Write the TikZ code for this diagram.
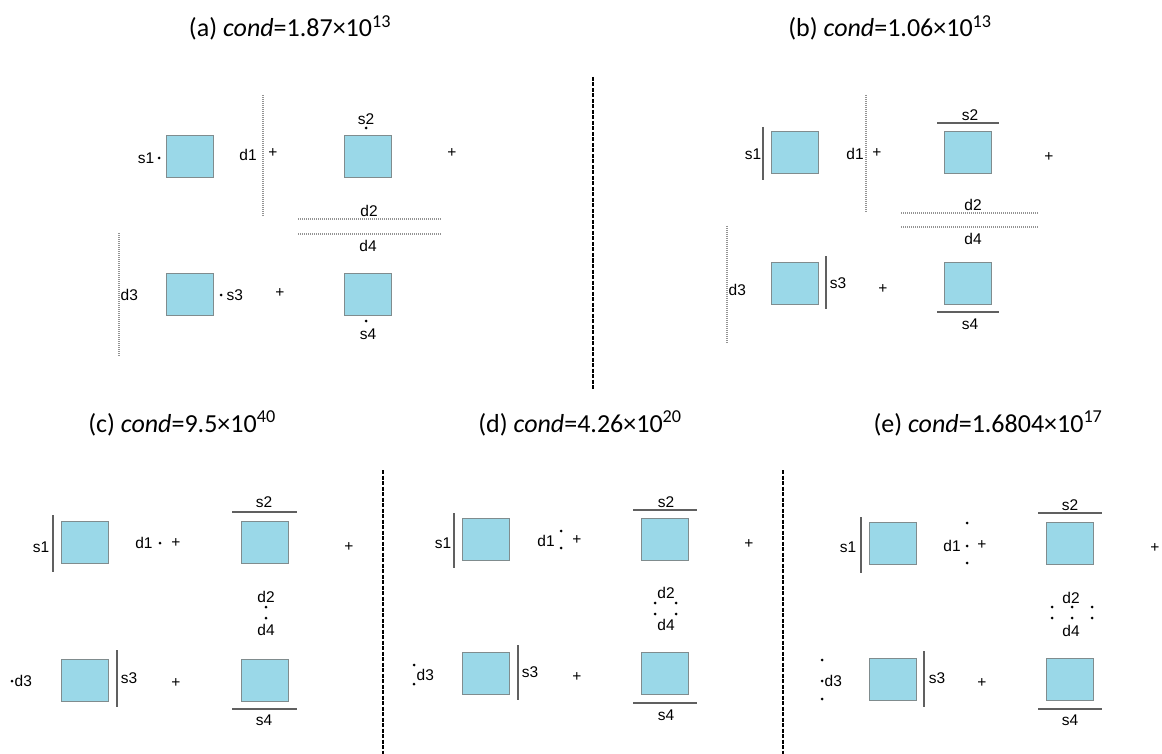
\documentclass[tikz,border=0pt]{standalone}
\usepackage{fontspec}
\setmainfont{Carlito}
\newfontfamily\lblfont{Liberation Sans}
\definecolor{boxblue}{RGB}{154,216,232}
\definecolor{boxedge}{RGB}{128,140,142}
\tikzset{
  blk/.style={draw=boxedge,fill=boxblue,line width=0.8pt,minimum width=47pt,minimum height=42pt,inner sep=0pt},
  lbl/.style={font=\lblfont\fontsize{15.5}{18}\selectfont,inner sep=0.5pt},
  ttl/.style={font=\fontsize{26}{30}\selectfont,anchor=base},
  bar/.style={draw=gray!75!black,line width=1.3pt},
  dotline/.style={draw=gray!85,line width=1.3pt,dash pattern=on 1pt off 1pt},
  sepline/.style={line width=2pt,dash pattern=on 4pt off 1.5pt},
  pt/.style={circle,fill=black,inner sep=0pt,minimum size=3pt}
}
\begin{document}
\begin{tikzpicture}[x=1pt,y=-1pt]
\useasboundingbox (0,0) rectangle (1162,754);

% titles
\node[ttl] (ta) at (290,37) {(a) \textit{cond}=1.87×10\textsuperscript{13}};
\node[ttl] (tb) at (890,37) {(b) \textit{cond}=1.06×10\textsuperscript{13}};
\node[ttl] (tc) at (182,432) {(c) \textit{cond}=9.5×10\textsuperscript{40}};
\node[ttl] (td) at (580,432) {(d) \textit{cond}=4.26×10\textsuperscript{20}};
\node[ttl] (te) at (988,432) {(e) \textit{cond}=1.6804×10\textsuperscript{17}};

% separators
\draw[sepline] (593,77) -- (593,390);
\draw[sepline] (383,470) -- (383,754);
\draw[sepline] (783,470) -- (783,754);

% (a)
\node[blk] (a1) at (189.5,156.5) {};
\node[blk] (a2) at (367.5,156.5) {};
\node[blk] (a3) at (189.5,294) {};
\node[blk] (a4) at (367.5,294) {};
\node[lbl] (a-s1) at (146,158) {s1};
\node[pt] (a-x1) at (159,158) {};
\draw[dotline] (263,95) -- (263,217);
\node[lbl] (a-d1) at (248,155) {d1};
\node[lbl] (a-p1) at (273,153) {+};
\node[lbl] (a-s2) at (366,119) {s2};
\node[pt] (a-x2) at (366,128) {};
\node[lbl] (a-p2) at (452,153) {+};
\draw[dotline] (298,219) -- (442,219);
\draw[dotline] (298,234) -- (442,234);
\node[lbl] (a-d2) at (369,211) {d2};
\node[lbl] (a-d4) at (368,246) {d4};
\draw[dotline] (119,233) -- (119,356);
\node[lbl,anchor=west] (a-d3) at (120,295) {d3};
\node[pt] (a-x3) at (221,295) {};
\node[lbl,anchor=west] (a-s3) at (226,295) {s3};
\node[lbl] (a-p3) at (280,293) {+};
\node[pt] (a-x4) at (366,321) {};
\node[lbl] (a-s4) at (368,334) {s4};

% (b)
\node[blk] (b1) at (795,152) {};
\node[blk] (b2) at (968,152) {};
\node[blk] (b3) at (795,283) {};
\node[blk] (b4) at (968,283) {};
\draw[bar] (763,127) -- (763,180);
\node[lbl] (b-s1) at (753,154) {s1};
\draw[dotline] (866,95) -- (866,212);
\node[lbl] (b-d1) at (855,154) {d1};
\node[lbl] (b-p1) at (877,153) {+};
\draw[bar] (937,123) -- (999,123);
\node[lbl] (b-s2) at (970,115) {s2};
\node[lbl] (b-p2) at (1049,157) {+};
\draw[dotline] (901,213) -- (1039,213);
\draw[dotline] (901,227) -- (1039,227);
\node[lbl] (b-d2) at (973,205) {d2};
\node[lbl] (b-d4) at (973,239) {d4};
\draw[dotline] (727,226) -- (727,343);
\node[lbl,anchor=west] (b-d3) at (728,290) {d3};
\draw[bar] (826,256) -- (826,309);
\node[lbl] (b-s3) at (838,283) {s3};
\node[lbl] (b-p3) at (883,289) {+};
\draw[bar] (937,312) -- (999,312);
\node[lbl] (b-s4) at (970,324) {s4};

% (c)
\node[blk] (c1) at (85,542) {};
\node[blk] (c2) at (264.5,542) {};
\node[blk] (c3) at (85,680) {};
\node[blk] (c4) at (264.5,680) {};
\draw[bar] (53,515) -- (53,572);
\node[lbl] (c-s1) at (41,547) {s1};
\node[lbl] (c-d1) at (144,543) {d1};
\node[pt] (c-x1) at (160,543) {};
\node[lbl] (c-p1) at (176,543) {+};
\draw[bar] (232,512) -- (297,512);
\node[lbl] (c-s2) at (264,502) {s2};
\node[lbl] (c-p2) at (349,547) {+};
\node[lbl] (c-d2) at (266,597) {d2};
\node[pt] (c-x2) at (266,607) {};
\node[pt] (c-x3) at (266,618) {};
\node[lbl] (c-d4) at (266,630) {d4};
\node[pt] (c-x4) at (12,681) {};
\node[lbl,anchor=west] (c-d3) at (14,681) {d3};
\draw[bar] (117,650) -- (117,707);
\node[lbl] (c-s3) at (129,678) {s3};
\node[lbl] (c-p3) at (176,683) {+};
\draw[bar] (232,709) -- (297,709);
\node[lbl] (c-s4) at (264,720) {s4};

% (d)
\node[blk] (d1) at (486,539.5) {};
\node[blk] (d2) at (664.5,539.5) {};
\node[blk] (d3) at (486,673.5) {};
\node[blk] (d4) at (664.5,673.5) {};
\draw[bar] (454,513) -- (454,568);
\node[lbl] (d-s1) at (443,543) {s1};
\node[lbl] (d-d1) at (546,541) {d1};
\node[pt] (d-x1) at (561,531) {};
\node[pt] (d-x2) at (561,548) {};
\node[lbl] (d-p1) at (577,540) {+};
\draw[bar] (633,510) -- (697,510);
\node[lbl] (d-s2) at (666,502) {s2};
\node[lbl] (d-p2) at (749,544) {+};
\node[lbl] (d-d2) at (666,593) {d2};
\node[pt] (d-x3) at (655,603) {};
\node[pt] (d-x4) at (676,603) {};
\node[pt] (d-x5) at (655,614) {};
\node[pt] (d-x6) at (676,614) {};
\node[lbl] (d-d4) at (666,625) {d4};
\node[pt] (d-x7) at (414,665) {};
\node[pt] (d-x8) at (414,684) {};
\node[lbl,anchor=west] (d-d3) at (416,675) {d3};
\draw[bar] (518,645) -- (518,700);
\node[lbl] (d-s3) at (530,672) {s3};
\node[lbl] (d-p3) at (577,677) {+};
\draw[bar] (633,703) -- (697,703);
\node[lbl] (d-s4) at (666,715) {s4};

% (e)
\node[blk] (e1) at (892.5,543) {};
\node[blk] (e2) at (1070,543) {};
\node[blk] (e3) at (892.5,679.5) {};
\node[blk] (e4) at (1070,679.5) {};
\draw[bar] (861,517) -- (861,573);
\node[lbl] (e-s1) at (848,547) {s1};
\node[lbl] (e-d1) at (952,546) {d1};
\node[pt] (e-x1) at (967,523) {};
\node[pt] (e-x2) at (967,546) {};
\node[pt] (e-x3) at (967,563) {};
\node[lbl] (e-p1) at (982,545) {+};
\draw[bar] (1038,513) -- (1102,513);
\node[lbl] (e-s2) at (1070,505) {s2};
\node[lbl] (e-p2) at (1155,548) {+};
\node[lbl] (e-d2) at (1071,598) {d2};
\foreach \xx in {1052,1072,1092} {
  \node[pt] at (\xx,607) {};
  \node[pt] at (\xx,618) {};
}
\node[lbl] (e-d4) at (1071,631) {d4};
\node[pt] (e-x4) at (822,660) {};
\node[pt] (e-x5) at (822,681) {};
\node[pt] (e-x6) at (822,699) {};
\node[lbl,anchor=west] (e-d3) at (824,681) {d3};
\draw[bar] (924,651) -- (924,707);
\node[lbl] (e-s3) at (937,678) {s3};
\node[lbl] (e-p3) at (982,683) {+};
\draw[bar] (1038,709) -- (1102,709);
\node[lbl] (e-s4) at (1070,720) {s4};
\end{tikzpicture}
\end{document}
